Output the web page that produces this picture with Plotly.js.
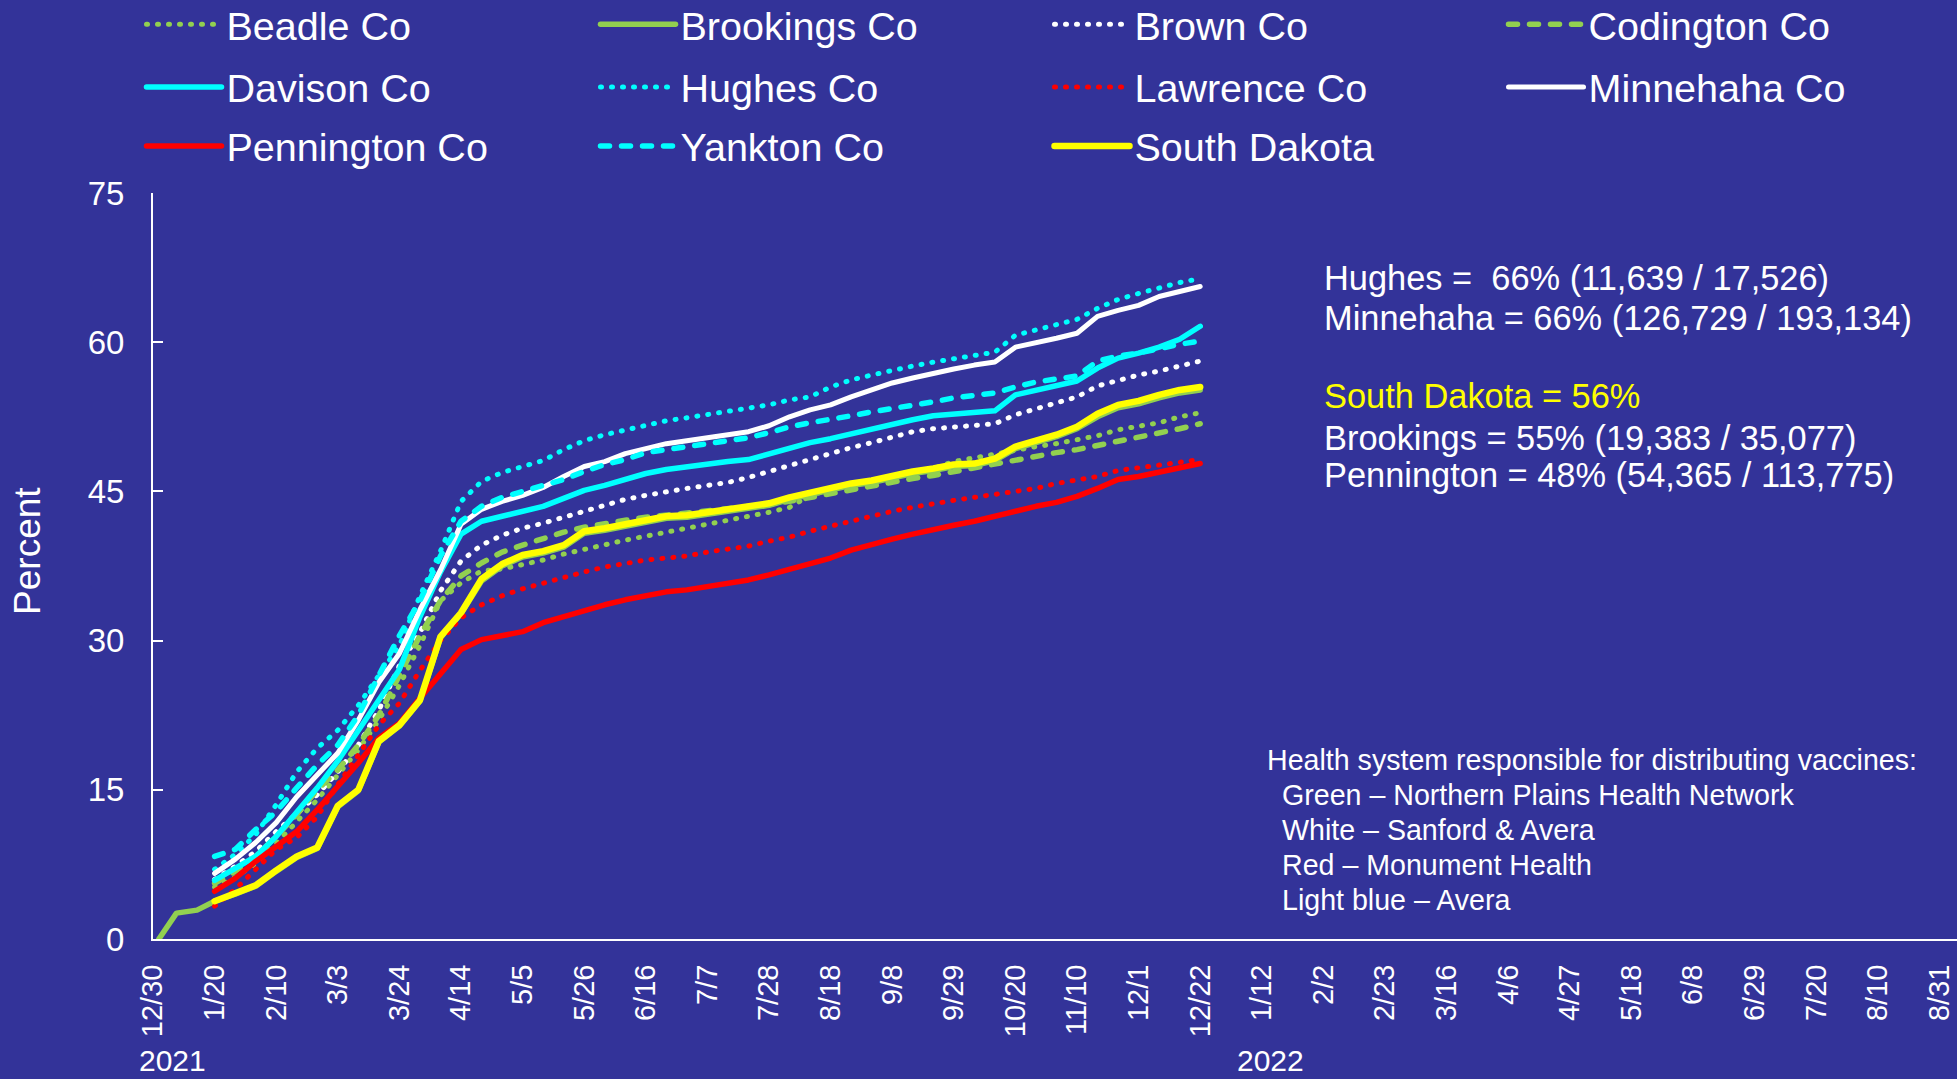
<!DOCTYPE html>
<html>
<head>
<meta charset="utf-8">
<script src="https://cdn.plot.ly/plotly-3.0.1.min.js"></script>
<style>
  html, body { margin: 0; padding: 0; background: #333399; }
  #chart { width: 1957px; height: 1079px; }
  .js-line { stroke-linecap: round; stroke-linejoin: round; }
</style>
</head>
<body>
<div id="chart"></div>
<script>
// ---------- DATA ----------
const weeks = ['2021-01-20','2021-01-27','2021-02-03','2021-02-10','2021-02-17','2021-02-24','2021-03-03','2021-03-10','2021-03-17','2021-03-24',
  '2021-03-31','2021-04-07','2021-04-14','2021-04-21','2021-04-28','2021-05-05','2021-05-12','2021-05-19','2021-05-26','2021-06-02',
  '2021-06-09','2021-06-16','2021-06-23','2021-06-30','2021-07-07','2021-07-14','2021-07-21','2021-07-28','2021-08-04','2021-08-11',
  '2021-08-18','2021-08-25','2021-09-01','2021-09-08','2021-09-15','2021-09-22','2021-09-29','2021-10-06','2021-10-13','2021-10-20',
  '2021-10-27','2021-11-03','2021-11-10','2021-11-17','2021-11-24','2021-12-01','2021-12-08','2021-12-15','2021-12-22'];
const brookingsEarlyDates = ['2021-01-01','2021-01-07','2021-01-14'];

const beadle = [5.2,6.2,7.6,9.6,11.8,14.0,16.5,19.0,22.0,25.5,
  29.5,34.0,35.8,37.0,37.2,37.6,38.1,38.7,39.2,39.7,
  40.1,40.5,40.9,41.3,41.7,42.0,42.4,42.9,43.4,44.6,
  45.2,45.7,46.1,46.5,46.9,47.3,48.0,48.4,48.8,49.2,
  49.5,49.8,50.2,50.6,51.2,51.5,51.9,52.5,52.9];
const brookingsEarly = [0,2.6,2.9];
const brookings = [3.8,4.5,5.3,6.8,8.2,9.1,13.3,14.9,19.8,21.4,
  23.9,30.3,32.7,36.0,37.5,38.4,38.8,39.4,40.8,41.1,
  41.5,41.9,42.3,42.4,42.7,43.0,43.3,43.6,44.2,44.7,
  45.1,45.6,45.9,46.4,46.8,47.1,47.5,47.6,48.1,49.3,
  49.9,50.5,51.3,52.5,53.4,53.8,54.4,54.9,55.2];
const brown = [6.0,7.3,8.8,10.8,12.6,14.5,16.8,19.5,23.0,27.5,
  30.8,35.0,38.0,39.6,40.6,41.3,41.8,42.4,42.9,43.6,
  44.2,44.6,45.0,45.3,45.6,45.9,46.4,47.0,47.6,48.2,
  48.9,49.4,49.9,50.4,51.0,51.3,51.5,51.6,51.8,52.7,
  53.3,53.8,54.5,55.6,56.2,56.7,57.1,57.6,58.1];
const codington = [5.6,6.8,8.3,10.3,12.5,15.0,17.0,19.5,22.5,26.5,
  30.5,34.0,36.5,37.8,38.9,39.6,40.3,40.9,41.4,41.8,
  42.1,42.4,42.6,42.8,43.1,43.3,43.5,43.7,44.0,44.4,
  44.8,45.2,45.5,45.9,46.3,46.6,47.0,47.4,47.7,48.2,
  48.5,48.9,49.2,49.6,50.0,50.5,50.9,51.3,51.8];
const davison = [5.9,7.1,8.3,10.3,12.7,15.2,17.9,20.9,24.0,27.1,
  32.4,36.9,40.7,42.0,42.5,43.0,43.5,44.3,45.1,45.6,
  46.2,46.8,47.2,47.5,47.8,48.0,48.2,48.8,49.4,49.9,
  50.3,50.8,51.3,51.8,52.2,52.6,52.8,53.0,53.1,54.7,
  55.2,55.7,56.1,57.4,58.4,58.9,59.5,60.3,61.6];
const hughes = [7.0,8.5,10.5,13.5,16.8,19.2,21.0,23.5,26.5,29.5,
  34.5,39.0,44.0,46.0,46.9,47.5,48.1,49.2,50.1,50.7,
  51.2,51.7,52.1,52.4,52.7,53.0,53.3,53.7,54.2,54.5,
  55.5,56.2,56.7,57.2,57.6,58.0,58.3,58.6,59.0,60.7,
  61.2,61.8,62.3,63.4,64.3,64.9,65.5,66.0,66.4];
const lawrence = [3.3,5.0,7.0,9.0,10.2,12.3,15.5,18.5,21.5,23.7,
  27.0,30.0,32.3,33.6,34.5,35.2,35.8,36.3,36.9,37.4,
  37.8,38.1,38.3,38.5,38.9,39.2,39.5,40.0,40.4,41.0,
  41.5,42.1,42.6,43.0,43.4,43.8,44.1,44.4,44.7,45.0,
  45.3,45.8,46.2,46.5,47.1,47.4,47.7,48.0,48.2];
const minnehaha = [6.6,8.0,9.7,11.7,14.3,16.5,18.7,22.0,25.8,28.7,
  33.1,37.1,41.7,43.2,44.0,44.6,45.4,46.5,47.5,48.0,
  48.8,49.3,49.8,50.1,50.4,50.7,51.0,51.6,52.5,53.2,
  53.7,54.5,55.2,55.9,56.4,56.9,57.3,57.7,58.0,59.5,
  59.9,60.4,60.9,62.6,63.2,63.7,64.6,65.1,65.6];
const pennington = [4.8,6.1,7.8,9.3,10.8,13.0,15.3,17.7,20.2,21.7,
  24.2,26.7,29.1,30.1,30.5,30.9,31.8,32.4,33.1,33.6,
  34.1,34.5,34.9,35.1,35.4,35.7,36.1,36.6,37.2,37.8,
  38.3,39.1,39.7,40.2,40.7,41.2,41.6,42.0,42.5,43.1,
  43.5,43.9,44.5,45.3,46.2,46.5,46.9,47.3,47.8];
const yankton = [8.3,9.0,11.0,12.8,15.2,17.5,19.5,22.5,26.5,30.5,
  34.0,38.5,42.0,43.5,44.4,45.0,45.6,46.2,47.0,47.7,
  48.2,48.9,49.2,49.5,49.8,50.0,50.4,50.9,51.5,51.9,
  52.2,52.6,53.0,53.3,53.7,54.0,54.4,54.7,54.9,55.5,
  56.0,56.3,56.6,58.1,58.6,58.9,59.4,59.8,60.1];
const southDakota = [3.8,4.6,5.4,6.9,8.3,9.2,13.4,15.0,19.9,21.5,
  24.0,30.4,32.8,36.2,37.7,38.6,39.0,39.6,41.0,41.3,
  41.7,42.1,42.5,42.6,42.9,43.2,43.5,43.8,44.4,44.9,
  45.3,45.8,46.1,46.6,47.0,47.3,47.7,47.8,48.3,49.5,
  50.1,50.7,51.5,52.8,53.7,54.1,54.7,55.2,55.5];

const seriesNames = ['Beadle Co','Brookings Co','Brown Co','Codington Co','Davison Co','Hughes Co',
  'Lawrence Co','Minnehaha Co','Pennington Co','Yankton Co','South Dakota'];

const statLines = ['Hughes =  66% (11,639 / 17,526)', 'Minnehaha = 66% (126,729 / 193,134)',
  'South Dakota = 56%', 'Brookings = 55% (19,383 / 35,077)', 'Pennington = 48% (54,365 / 113,775)'];
const healthLines = ['Health system responsible for distributing vaccines:', 'Green \u2013 Northern Plains Health Network',
  'White \u2013 Sanford & Avera', 'Red \u2013 Monument Health', 'Light blue \u2013 Avera'];
const yearLabels = ['2021', '2022'];

// ---------- STYLE ----------
const BG = '#333399', GREEN = '#92D050', CYAN = '#00FFFF', RED = '#FF0000', WHITE = '#FFFFFF', YELLOW = '#FFFF00';
const FONT = 'Liberation Sans, Arial, sans-serif';
const DOT = '1px,10px', DASH = '9px,12px';
const W = 1957, H = 1079, ML = 152.5, MR = 0, MT = 192.7, MB = 139.5;
const PW = W - ML - MR, PH = H - MT - MB;
const px2x = p => (p - ML) / PW;
const py2y = p => (H - MB - p) / PH;

function tr(name, x, y, color, width, dash, legend) {
  return { type: 'scatter', mode: 'lines', name, x, y, legend,
    line: { color, width, dash, shape: 'linear' }, hoverinfo: 'skip' };
}

const traces = [
  tr(seriesNames[0], weeks, beadle, GREEN, 5, DOT, 'legend'),
  tr(seriesNames[1], brookingsEarlyDates.concat(weeks), brookingsEarly.concat(brookings), GREEN, 5.5, 'solid', 'legend'),
  tr(seriesNames[2], weeks, brown, WHITE, 5, DOT, 'legend'),
  tr(seriesNames[3], weeks, codington, GREEN, 5.5, DASH, 'legend'),
  tr(seriesNames[4], weeks, davison, CYAN, 5.5, 'solid', 'legend2'),
  tr(seriesNames[5], weeks, hughes, CYAN, 5, DOT, 'legend2'),
  tr(seriesNames[6], weeks, lawrence, RED, 5, DOT, 'legend2'),
  tr(seriesNames[7], weeks, minnehaha, WHITE, 5, 'solid', 'legend2'),
  tr(seriesNames[8], weeks, pennington, RED, 5.5, 'solid', 'legend3'),
  tr(seriesNames[9], weeks, yankton, CYAN, 5.5, DASH, 'legend3'),
  tr(seriesNames[10], weeks, southDakota, YELLOW, 6.5, 'solid', 'legend3')
];

function legendCfg(yPx) {
  return { x: px2x(141), xanchor: 'left', y: py2y(yPx), yanchor: 'middle', orientation: 'h',
    font: { family: FONT, size: 39.5, color: WHITE }, itemwidth: 75, entrywidth: 364, entrywidthmode: 'pixels',
    bgcolor: 'rgba(0,0,0,0)', borderwidth: 0, traceorder: 'normal', itemclick: false, itemdoubleclick: false };
}

const annotations = [];
const statY = [277.7, 317.5, 396, 437.5, 475];
statLines.forEach((t, i) => annotations.push({ xref: 'paper', yref: 'paper', x: px2x(1322), y: py2y(statY[i]),
  xanchor: 'left', yanchor: 'middle', showarrow: false, text: t,
  font: { family: FONT, size: 34.4, color: i === 2 ? YELLOW : WHITE } }));
const healthY = [760.7, 795, 830, 865, 900];
healthLines.forEach((t, i) => annotations.push({ xref: 'paper', yref: 'paper', x: px2x(i === 0 ? 1265 : 1280), y: py2y(healthY[i]),
  xanchor: 'left', yanchor: 'middle', showarrow: false, text: t,
  font: { family: FONT, size: 28.6, color: WHITE } }));
const yearX = [136, 1235];
yearLabels.forEach((t, i) => annotations.push({ xref: 'paper', yref: 'paper', x: px2x(yearX[i]), y: py2y(1061),
  xanchor: 'left', yanchor: 'middle', showarrow: false, text: t,
  font: { family: FONT, size: 30, color: WHITE } }));
annotations.push({ xref: 'paper', yref: 'paper', x: px2x(27.5), y: py2y(551), xanchor: 'center', yanchor: 'middle',
  showarrow: false, text: 'Percent', textangle: -90, font: { family: FONT, size: 37, color: WHITE } });

const layout = {
  width: W, height: H,
  margin: { l: ML, r: MR, t: MT, b: MB, pad: 0, autoexpand: false },
  paper_bgcolor: BG, plot_bgcolor: BG,
  font: { family: FONT, color: WHITE },
  showlegend: true,
  legend: legendCfg(24),
  legend2: legendCfg(87),
  legend3: legendCfg(146),
  xaxis: {
    type: 'date', range: ['2020-12-30', '2022-09-06'],
    tick0: '2020-12-30', dtick: 21 * 86400000, tickformat: '%-m/%-d',
    tickangle: -90, tickfont: { family: FONT, size: 29, color: WHITE },
    ticks: '', showgrid: false, zeroline: false, automargin: false,
    showline: true, linecolor: WHITE, linewidth: 2, ticklabelstandoff: 12
  },
  yaxis: {
    range: [0, 75], tick0: 0, dtick: 15,
    tickfont: { family: FONT, size: 33, color: WHITE },
    ticks: 'inside', ticklen: 10, tickwidth: 2, tickcolor: WHITE,
    showgrid: false, zeroline: false, automargin: false,
    showline: true, linecolor: WHITE, linewidth: 2, ticklabelstandoff: 20
  },
  annotations
};

Plotly.newPlot('chart', traces, layout, { staticPlot: true, displayModeBar: false });
</script>
</body>
</html>
